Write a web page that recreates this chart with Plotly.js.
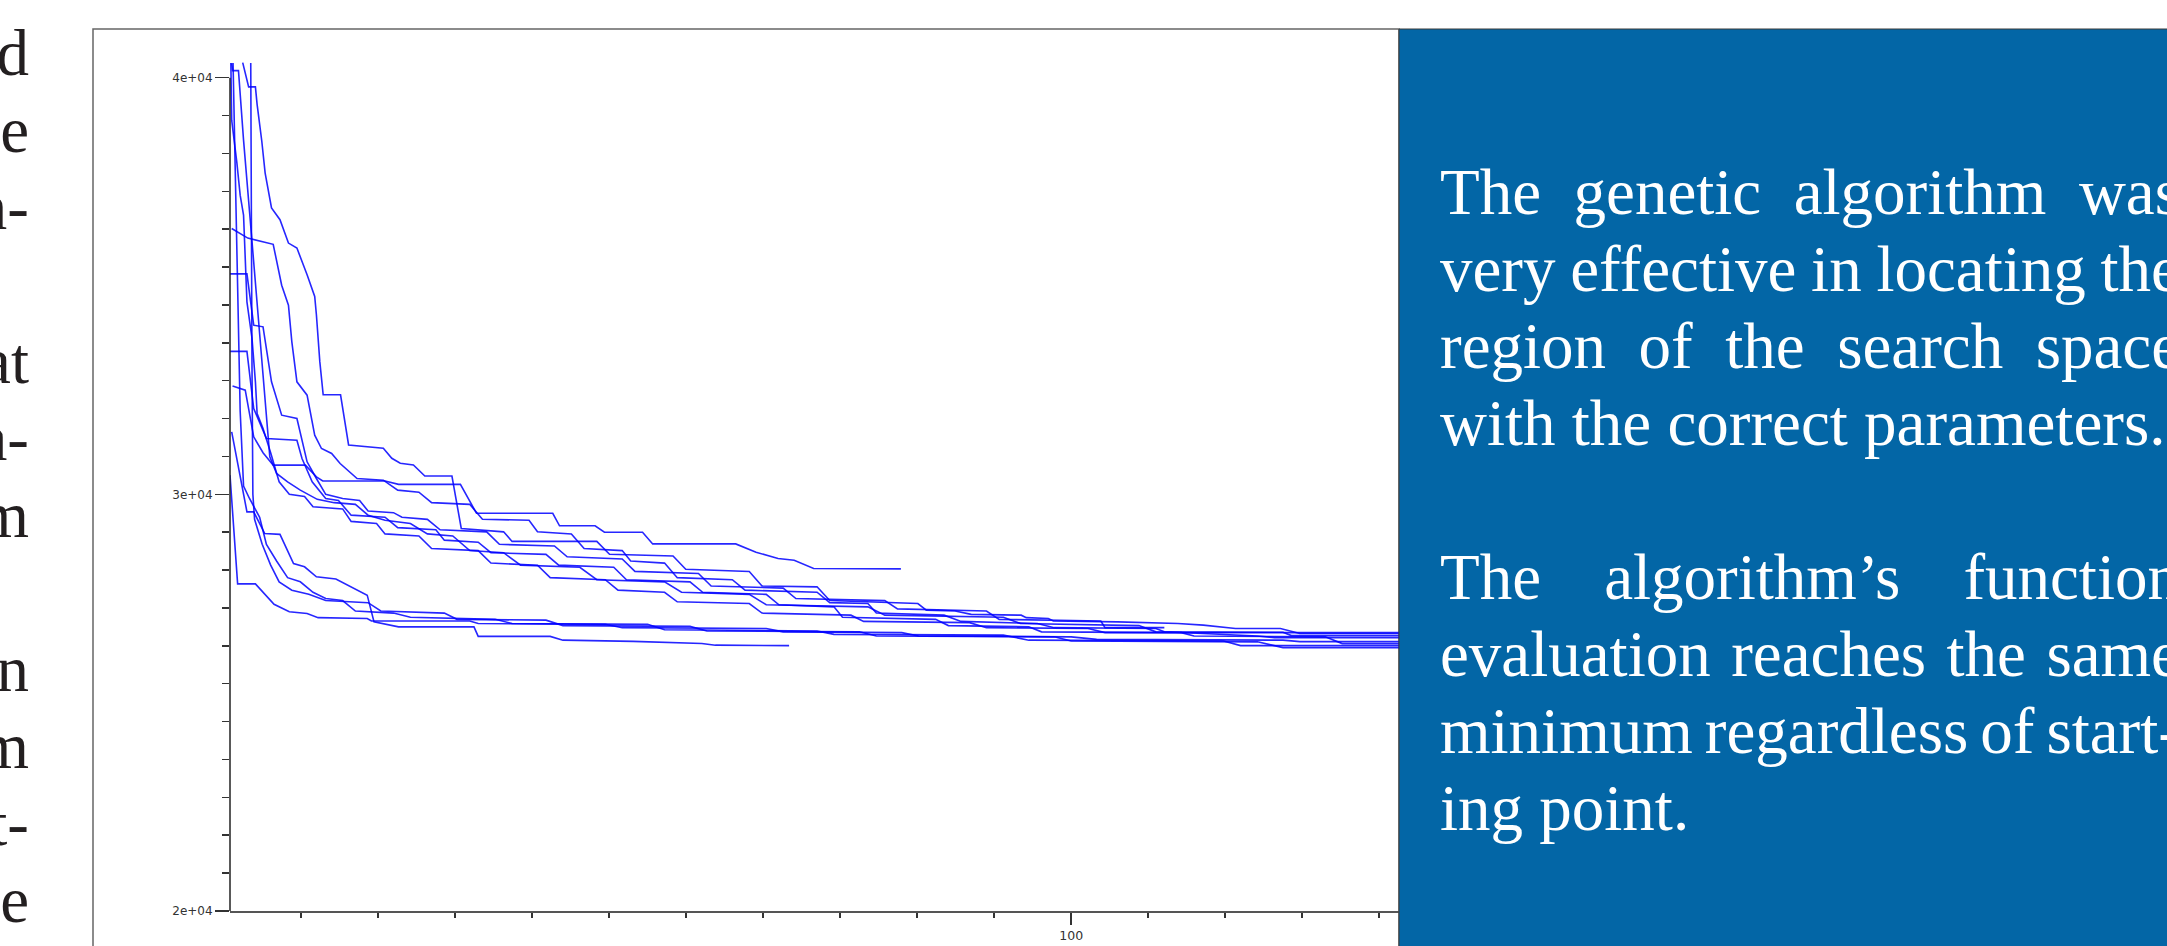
<!DOCTYPE html>
<html>
<head>
<meta charset="utf-8">
<script src="https://cdn.plot.ly/plotly-3.0.1.min.js"></script>
<style>
html,body{margin:0;padding:0;width:2167px;height:946px;overflow:hidden;background:#fff;}
#chart{position:absolute;left:0;top:0;width:2167px;height:946px;}
.txt{position:absolute;font-family:"Liberation Serif","Times New Roman",serif;font-size:65px;line-height:77px;}
#leftText{left:-171px;top:15px;width:200px;text-align:right;color:#231f20;white-space:nowrap;}
#leftText div{height:77px;}
#boxText{left:1440px;top:154px;width:740px;color:#ffffff;}
#boxText .ln{height:77px;white-space:nowrap;}
#boxText .just{display:flex;justify-content:space-between;}
</style>
</head>
<body>
<div id="chart"></div>
<div id="leftText" class="txt"></div>
<div id="boxText" class="txt"></div>
<script>
// ---- data: best-value traces of the genetic algorithm runs (iteration, objective) ----
const run01_x = [2.2,2.9,3.7,3.9,4.45,4.85,5.6,6.6,7.6,8.6,9.8,10.7,10.9,11.3,11.7,13.75,14.7,18.8,19.8,20.8,22.35,23.7,26.9,28.0,33,34,44,45.5,53,54.5,62,63.5,70,71.5,81.9,82.9,86.3,88.2,94.1,94.7,97.3,97.9,105.5,112.6,115.6,119.4,124.7,127,150];
const run01_y = [40360,39780,39780,39360,38480,37710,36875,36590,36030,35910,35270,34750,34310,33190,32390,32390,31185,31105,30865,30745,30705,30440,30440,29180,29100,28870,28870,28560,28520,28200,28150,27800,27780,27450,27380,27220,27200,27120,27100,27040,27020,26960,26940,26900,26860,26780,26780,26660,26660];

const run02_x = [0.9,1.0,1.7,2.3,3.0,3.6,4.3,5.0,5.4,6.2,7.5,9,11,13,15.5,17,19,22,24,27,29,33,35,42,44,52,54,62,64,76,78,92,94,108,110,125,126,150];
const run02_y = [40350,40170,40170,38500,36800,35300,33600,31800,30900,30500,30300,30100,29880,29800,29760,29500,29380,29300,29050,29000,28650,28600,28300,28250,27950,27900,27650,27600,27350,27300,27100,27050,26900,26850,26700,26690,26610,26610];

const run03_x = [0.9,2.8,5.8,6.8,7.6,8.0,8.6,9.8,10.7,11.5,12.7,13.7,15.7,18.8,20.5,23,24.5,29,30.5,36,37,41,42.5,47,48,52,53.5,60,61.5,70,71.5,76,77,85,87,96,98,110,111,122,124,150];
const run03_y = [36380,36150,36000,35020,34540,33660,32700,32380,31420,31100,30980,30740,30380,30340,30100,30050,29800,29760,29400,29380,29100,29050,28700,28650,28400,28350,28000,27950,27700,27650,27400,27380,27150,27100,26950,26900,26800,26780,26700,26600,26562,26562];

const run04_x = [0.7,2.7,3.5,4.6,5.6,6.8,8.6,9.8,10.9,12,14,16,17,20,21,24,25.5,31,32.5,39,40.5,47,48.5,56,57.5,66,67.5,78,79.5,90,91.5,103.5,104,111];
const run04_y = [35290,35290,34060,34020,32700,31900,31820,30780,30380,30000,29900,29850,29600,29560,29450,29400,29150,29100,28800,28760,28500,28450,28150,28100,27800,27750,27500,27450,27250,27200,27000,26960,26800,26800];

const run05_x = [0.7,2.7,3.5,4.6,5.0,8.6,9.2,10.4,12,13.5,15,19,20.5,25,26,30,31.5,38,39.5,46,47.5,55,56.5,64,65.5,72,73,84,85.5,95,96.5,113,114.5,130,132,150];
const run05_y = [33430,33430,32060,31540,31340,31300,30860,30300,29900,29850,29500,29450,29200,29150,28900,28850,28600,28560,28300,28250,27950,27900,27650,27600,27350,27300,27050,27000,26850,26820,26700,26680,26600,26580,26418,26418];

const run06_x = [1.06,1.3,1.6,1.9,2.3,3,4.2,5,6.2,7.5,9,10.5,12,14,15.5,20,22,32,34,50,52,70,72,92,95,118,120,150];
const run06_y = [40350,38000,35000,32000,30200,29900,29450,28800,28400,28000,27900,27650,27500,27450,27200,27150,27050,27000,26900,26880,26750,26720,26640,26620,26500,26480,26370,26370];

const run07_x = [3.15,3.2,3.3,3.4,3.6,4.5,5.5,6.5,8,10,12,17,18.5,26,27.5,38,40,55,57,75,77,98,100,122,125,150];
const run07_y = [40350,37000,33000,30000,29400,28800,28300,27900,27700,27600,27450,27400,27200,27150,27000,26980,26850,26830,26720,26700,26600,26580,26480,26460,26322,26322];

const run08_x = [0.8,0.9,1.5,1.9,2.3,2.7,3.3,3.7,3.9,4.6,5.5,6.5,7.7,9.5,10.5,14,15,18,19,23,24.5,30,31.5,37,38.5,45,46.5,52,53.5,62,63.5,74,75.5,88,90,102,104,150];
const run08_y = [40350,38980,37980,37180,36700,34620,33740,32700,31940,31580,31000,30300,30000,29950,29700,29650,29350,29300,29050,29000,28700,28650,28350,28300,28000,27950,27700,27650,27420,27380,27150,27100,26950,26920,26800,26780,26682,26682];

const run09_x = [1.0,2.5,3.5,4.6,5.8,9.6,10.9,11.65,19,20.6,27.9,29.8,38.8,39.6,43.8,44.9,49.4,50.6,60.4,62.8,65.4,67.3,69.6,79.9];
const run09_y = [32600,32500,31380,31000,30700,30700,30420,30320,30320,30240,30240,29545,29545,29245,29245,29090,29090,28810,28810,28610,28460,28420,28220,28210];

const run10_x = [0.9,2.7,3.5,4.8,6.6,8.2,9.5,10.9,13.2,16.9,17.7,20.6,29.5,30,38.5,40,48.3,56.4,58,66.7];
const run10_y = [31500,29580,29580,29060,29040,28340,28260,28020,27970,27580,26940,26820,26820,26590,26590,26500,26470,26420,26380,26370];

const run11_x = [0.7,1.6,3.7,5.9,7.7,9.8,11.1,16.9,17.4,29,30,45,47,64,66,80,82,100,103,125,127,150];
const run11_y = [30460,27850,27850,27360,27180,27140,27040,27020,26960,26960,26900,26880,26800,26780,26700,26680,26600,26580,26520,26500,26466,26466];

const yTickVals = [20000, 30000, 40000];
const yTickText = ['2e+04', '3e+04', '4e+04'];
const xTickVals = [100];
const xTickText = ['100'];

const leftFragments = ['d','e','n-','','at','a-','m','','n','m','t-','e'];
const boxLines = ['The genetic algorithm was','very effective in locating the','region of the search space','with the correct parameters.','','The algorithm\u2019s function','evaluation reaches the same','minimum regardless of start-','ing point.'];
const boxJustified = [true,true,true,false,false,true,true,true,false];

// ---- build traces ----
const runs = [
  [run01_x, run01_y],[run02_x, run02_y],[run03_x, run03_y],[run04_x, run04_y],
  [run05_x, run05_y],[run06_x, run06_y],[run07_x, run07_y],[run08_x, run08_y],
  [run09_x, run09_y],[run10_x, run10_y],[run11_x, run11_y]
];
const traces = runs.map(function(r){
  return {x:r[0], y:r[1], type:'scatter', mode:'lines',
          line:{color:'rgba(0,0,255,0.85)', width:1.6, shape:'linear'},
          hoverinfo:'skip'};
});

// plot area: x 230..1399 px, y 61..911 px
const pxL = 230, pxR = 1399, pxT = 61, pxB = 911;
function px2paperX(px){ return (px - pxL) / (pxR - pxL); }
function px2paperY(py){ return (pxB - py) / (pxB - pxT); }

const tickFont = {family: 'DejaVu Sans', size: 12, color: '#333333'};

const layout = {
  width: 2167, height: 946,
  margin: {l: pxL, r: 2167 - pxR, t: pxT, b: 946 - pxB, pad: 0},
  paper_bgcolor: '#ffffff', plot_bgcolor: 'rgba(0,0,0,0)',
  showlegend: false,
  xaxis: {
    range: [0.7, 138.7], showgrid: false, zeroline: false,
    showline: true, linecolor: '#555555', linewidth: 1.5,
    tickmode: 'array', tickvals: xTickVals, ticktext: xTickText,
    ticks: 'outside', ticklen: 12, tickwidth: 1.5, tickcolor: '#333333',
    tickfont: {family: 'DejaVu Sans', size: 12.5, color: '#333333'},
    minor: {tickmode: 'linear', tick0: 0, dtick: 100/11, ticks: 'outside', ticklen: 5, tickwidth: 1.5, tickcolor: '#333333', showgrid: false}
  },
  yaxis: {
    range: [20000, 40400], showgrid: false, zeroline: false, showline: false,
    tickmode: 'array', tickvals: yTickVals, ticktext: yTickText,
    ticks: 'outside', ticklen: 14, tickwidth: 1.5, tickcolor: '#333333',
    tickfont: tickFont,
    minor: {tickmode: 'linear', tick0: 20000, dtick: 10000/11, ticks: 'outside', ticklen: 7, tickwidth: 1.5, tickcolor: '#333333', showgrid: false}
  },
  shapes: [
    // outer chart frame
    {type: 'rect', xref: 'paper', yref: 'paper', layer: 'below',
     x0: px2paperX(93), x1: px2paperX(1399), y0: px2paperY(1000), y1: px2paperY(29),
     line: {color: '#666666', width: 1.5}, fillcolor: 'rgba(0,0,0,0)'},
    // y axis line from 2e4 to 4e4
    {type: 'line', xref: 'paper', yref: 'y', x0: 0, x1: 0, y0: 20000, y1: 40000,
     line: {color: '#222222', width: 1.5}},
    // blue text panel
    {type: 'rect', xref: 'paper', yref: 'paper', layer: 'above',
     x0: px2paperX(1399), x1: px2paperX(2180), y0: px2paperY(1000), y1: px2paperY(29),
     line: {color: '#3a3a3a', width: 1}, fillcolor: '#0366a6'}
  ]
};

Plotly.newPlot('chart', traces, layout, {displayModeBar: false, staticPlot: true});

// ---- slide text ----
const lt = document.getElementById('leftText');
leftFragments.forEach(function(f){
  const d = document.createElement('div');
  d.textContent = f === '' ? '\u00a0' : f;
  lt.appendChild(d);
});
const bt = document.getElementById('boxText');
boxLines.forEach(function(line, i){
  const d = document.createElement('div');
  d.className = 'ln' + (boxJustified[i] ? ' just' : '');
  if (boxJustified[i]) {
    line.split(' ').forEach(function(w){
      const s = document.createElement('span');
      s.textContent = w;
      d.appendChild(s);
    });
  } else {
    d.textContent = line === '' ? '\u00a0' : line;
  }
  bt.appendChild(d);
});
</script>
</body>
</html>
